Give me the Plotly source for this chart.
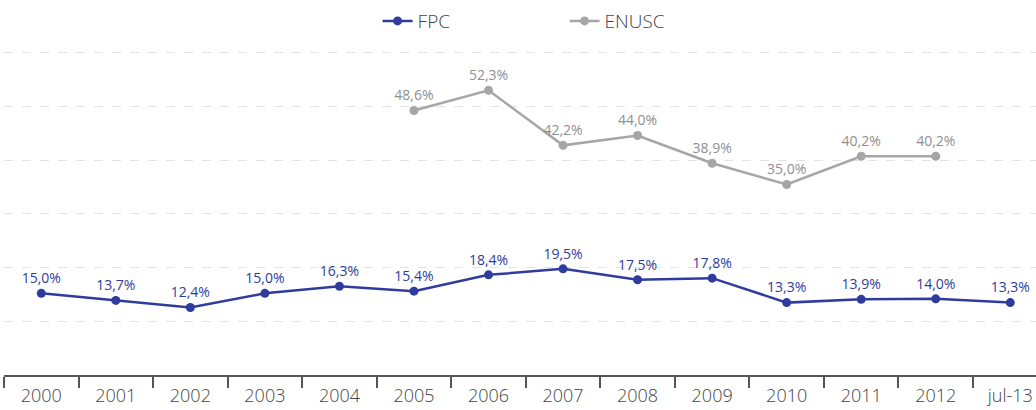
import plotly.graph_objects as go

categories = ["2000", "2001", "2002", "2003", "2004", "2005", "2006",
              "2007", "2008", "2009", "2010", "2011", "2012", "jul-13"]
fpc = [15.0, 13.7, 12.4, 15.0, 16.3, 15.4, 18.4, 19.5, 17.5, 17.8, 13.3, 13.9, 14.0, 13.3]
enusc = [None, None, None, None, None, 48.6, 52.3, 42.2, 44.0, 38.9, 35.0, 40.2, 40.2, None]

FPC_COLOR = "#2F3C9E"
ENUSC_COLOR = "#A6A6A8"
FONT = "Open Sans"

fig = go.Figure()
fig.add_trace(go.Scatter(
    x=categories, y=fpc, name="FPC", mode="lines+markers+text",
    line=dict(color=FPC_COLOR, width=2.5),
    marker=dict(color=FPC_COLOR, size=9),
    texttemplate="%{y:.1f}%", textposition="top center",
    textfont=dict(color=FPC_COLOR, size=14, family=FONT),
))
fig.add_trace(go.Scatter(
    x=categories, y=enusc, name="ENUSC", mode="lines+markers+text",
    line=dict(color=ENUSC_COLOR, width=2.5),
    marker=dict(color=ENUSC_COLOR, size=9),
    texttemplate="%{y:.1f}%", textposition="top center",
    textfont=dict(color="#8F8F91", size=14, family=FONT),
    connectgaps=False,
))

fig.update_layout(
    width=1036, height=410,
    margin=dict(l=4, r=0, t=49, b=35, autoexpand=False),
    paper_bgcolor="white", plot_bgcolor="white",
    separators=",.",
    font=dict(family=FONT, color="#444444"),
    showlegend=True,
    legend=dict(orientation="h", x=0.362, xanchor="left", y=0.995, yanchor="top",
                yref="container", xref="paper",
                font=dict(size=19, color="#444444", family=FONT, weight=300),
                entrywidth=142, itemwidth=30),
    xaxis=dict(
        type="category", range=[-0.5, 13.345],
        showline=True, linecolor="#555555", linewidth=1.5,
        ticks="outside", tickson="boundaries", ticklen=11, tickcolor="#555555", tickwidth=1.5,
        showgrid=False, ticklabelstandoff=4,
        tickfont=dict(size=18, color="#444444", family=FONT, weight=300),
    ),
    yaxis=dict(
        range=[0, 59.9], tick0=0, dtick=9.87, showticklabels=False,
        showgrid=True, gridcolor="#E3E3E3", griddash="dash", gridwidth=1,
        zeroline=False, showline=False, ticks="",
    ),
)

fig.write_html("out.html", config={"displayModeBar": False},
               post_script="document.body.style.margin='0';")
